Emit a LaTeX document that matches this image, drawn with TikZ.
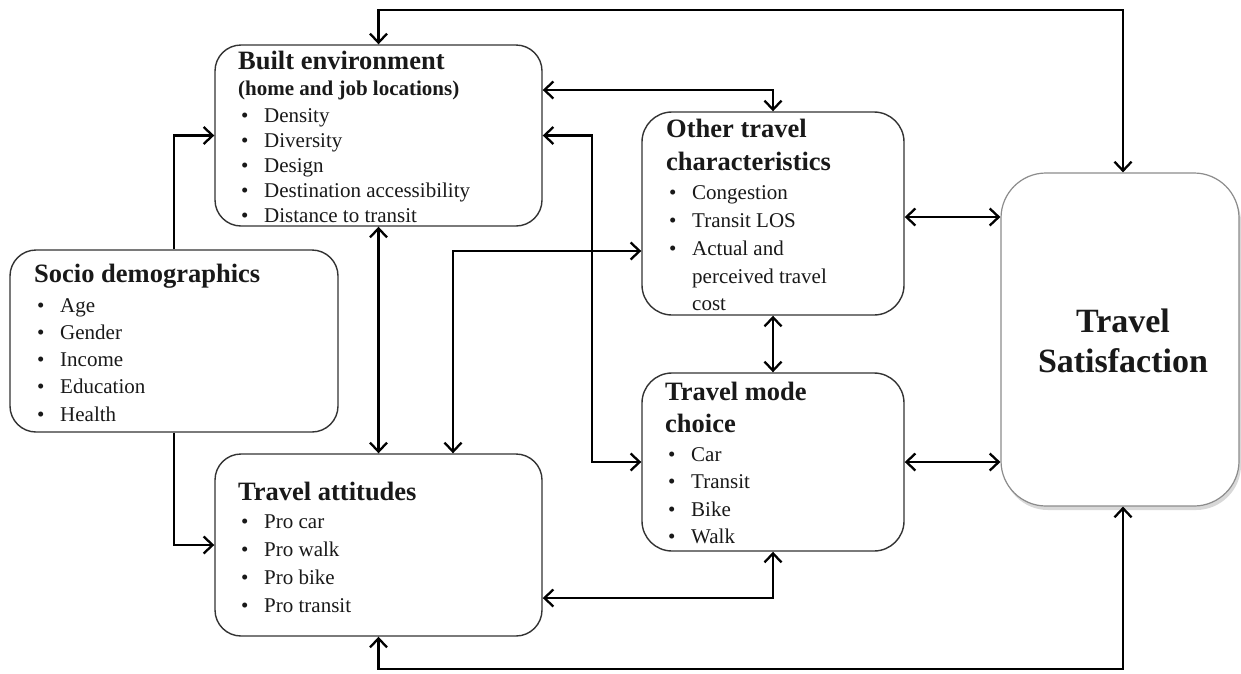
\documentclass[tikz,border=0pt]{standalone}
\usepackage{fontspec}
\setmainfont{Liberation Serif}
\usetikzlibrary{arrows.meta,shadows}
\newcommand\ttl{\fontsize{26.5}{30}\selectfont\bfseries}
\newcommand\itm{\fontsize{21}{25}\selectfont}
\newcommand\bul[1]{\hspace*{3pt}\makebox[23pt][l]{\textbullet}#1}
\newcommand\ind[1]{\hspace*{26pt}#1}
\newcommand\Ln[1]{\hbox{\smash{#1}}}
\newcommand\Lc[1]{\hbox to 0pt{\hss\smash{#1}\hss}}
\tikzset{
  box/.style n args={2}{draw=black!80, line width=1.4pt, rounded corners=26pt,
    minimum width=#1, minimum height=#2, inner sep=0pt},
  txt/.style={inner sep=0pt, anchor=base west, text=black!90},
  conn/.style={line width=2.6pt, black, line join=miter},
  bi/.style={conn, {Straight Barb[length=9pt,width=17pt,line width=2.3pt]}-{Straight Barb[length=9pt,width=17pt,line width=2.3pt]}},
  uni/.style={conn, -{Straight Barb[length=9pt,width=17pt,line width=2.3pt]}},
}
\begin{document}
\begin{tikzpicture}[x=1pt,y=-1pt]
\fill[white] (0,0) rectangle (1241,673);
\useasboundingbox (0,0) rectangle (1241,673);

% boxes
\node[box={327pt}{181pt}] (BE) at (378.5,135.5) {};
\node[box={328pt}{182pt}] (Soc) at (174,341) {};
\node[box={327pt}{182pt}] (TA) at (378.5,545) {};
\node[box={262pt}{203pt}, rounded corners=30pt] (OT) at (773,213.5) {};
\node[box={262pt}{178pt}, rounded corners=30pt] (MC) at (773,462) {};
\node[box={238pt}{333pt}, draw=black!45, line width=1.2pt, rounded corners=45pt, fill=white,
  drop shadow={shadow xshift=2pt, shadow yshift=-4pt, opacity=0.25, fill=black!60}] (Sat) at (1120,339.5) {};

% texts
\node[txt] (tBE) at (238,69) {\vtop{\offinterlineskip
  \Ln{\ttl Built environment}\vskip26pt
  \Ln{\itm\bfseries (home and job locations)}\vskip27pt
  \Ln{\itm\bul{Density}}\vskip25pt
  \Ln{\itm\bul{Diversity}}\vskip25pt
  \Ln{\itm\bul{Design}}\vskip25pt
  \Ln{\itm\bul{Destination accessibility}}\vskip25pt
  \Ln{\itm\bul{Distance to transit}}}};

\node[txt] (tSoc) at (34,282) {\vtop{\offinterlineskip
  \Ln{\ttl Socio demographics}\vskip30pt
  \Ln{\itm\bul{Age}}\vskip27pt
  \Ln{\itm\bul{Gender}}\vskip27pt
  \Ln{\itm\bul{Income}}\vskip27pt
  \Ln{\itm\bul{Education}}\vskip28pt
  \Ln{\itm\bul{Health}}}};

\node[txt] (tTA) at (238,500) {\vtop{\offinterlineskip
  \Ln{\ttl Travel attitudes}\vskip28pt
  \Ln{\itm\bul{Pro car}}\vskip28pt
  \Ln{\itm\bul{Pro walk}}\vskip28pt
  \Ln{\itm\bul{Pro bike}}\vskip28pt
  \Ln{\itm\bul{Pro transit}}}};

\node[txt] (tOT) at (666,137) {\vtop{\offinterlineskip
  \Ln{\ttl Other travel}\vskip33pt
  \Ln{\ttl characteristics}\vskip29pt
  \Ln{\itm\bul{Congestion}}\vskip28pt
  \Ln{\itm\bul{Transit LOS}}\vskip28pt
  \Ln{\itm\bul{Actual and}}\vskip28pt
  \Ln{\itm\ind{perceived travel}}\vskip27pt
  \Ln{\itm\ind{cost}}}};

\node[txt] (tMC) at (665,400) {\vtop{\offinterlineskip
  \Ln{\ttl Travel mode}\vskip32pt
  \Ln{\ttl choice}\vskip29pt
  \Ln{\itm\bul{Car}}\vskip27pt
  \Ln{\itm\bul{Transit}}\vskip28pt
  \Ln{\itm\bul{Bike}}\vskip27pt
  \Ln{\itm\bul{Walk}}}};

\node[inner sep=0pt, anchor=base, text=black!90] (tSat) at (1123,332) {\vtop{\offinterlineskip
  \Lc{\fontsize{34}{40}\selectfont\bfseries Travel}\vskip40pt
  \Lc{\fontsize{34}{40}\selectfont\bfseries Satisfaction}}};

% helper coordinates
\coordinate (topR) at (1123,10);
\coordinate (botR) at (1123,669);
\coordinate (c3) at (773,90);
\coordinate (x4) at (592,300);
\coordinate (c6) at (453,251);
\coordinate (c9) at (773,598);
\coordinate (c11) at (950,217);

% connectors
\draw[bi] (BE.north) |- (topR) -- (topR |- Sat.north);
\draw[bi] (TA.south) |- (botR) -- (botR |- Sat.south);
\draw[bi] (BE.east |- c3) -| (OT.north);
\draw[bi] (BE.east) -| (x4) |- (MC.west);
\draw[bi] (BE.south) -- (TA.north);
\draw[bi] (c6 |- TA.north) -- (c6) -- (c6 -| OT.west);
\draw[uni] (Soc.north) |- (BE.west);
\draw[uni] (Soc.south) |- (TA.west);
\draw[bi] (TA.east |- c9) -| (MC.south);
\draw[bi] (OT.south) -- (MC.north);
\draw[bi] (OT.east |- c11) -- (Sat.west |- c11);
\draw[bi] (MC.east) -- (MC.east -| Sat.west);
\end{tikzpicture}
\end{document}
